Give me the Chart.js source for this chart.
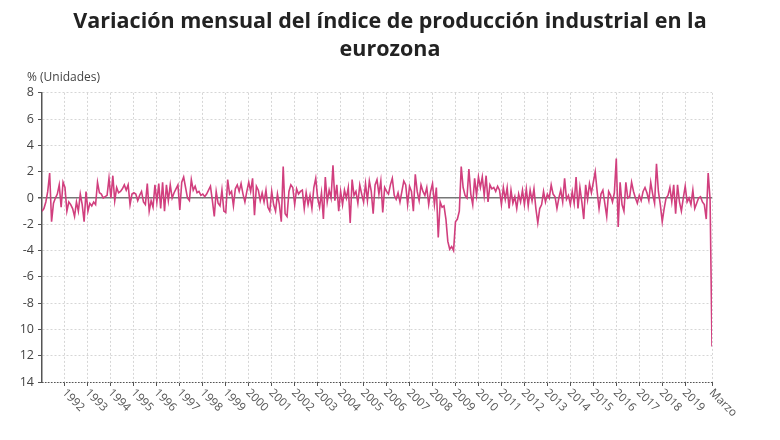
<!DOCTYPE html>
<html>
<head>
<meta charset="utf-8">
<script src="https://cdn.jsdelivr.net/npm/chart.js@4/dist/chart.umd.min.js"></script>
<style>
  html, body { margin: 0; padding: 0; background: #ffffff; }
  #wrap { width: 780px; height: 440px; }
</style>
</head>
<body>
<div id="wrap"><canvas id="c" width="780" height="440"></canvas></div>
<script>
// Variación mensual (%) — enero 1991 a marzo 2020
const tramo1 = [ // ene 1991 – abr 1998
  -1.0,-0.8,-0.3,0.5,1.9,-1.8,-0.4,0.0,0.3,1.0,-0.7,1.2,
  0.8,-1.0,-0.3,-0.5,-0.8,-1.4,-0.3,-1.0,0.3,-0.5,-1.8,0.5,
  -1.0,-0.4,-0.6,-0.3,-0.5,1.2,0.4,0.3,0.0,0.1,0.2,1.5,
  0.0,1.7,-0.2,0.8,0.4,0.5,0.7,1.0,0.6,1.0,-0.5,0.3,
  0.4,0.3,-0.2,0.2,0.5,-0.3,-0.5,1.1,-1.0,-0.2,-0.7,1.0,
  -0.3,1.1,-0.8,1.2,-1.0,1.0,-0.2,1.0,0.0,0.4,0.7,1.0,
  -0.9,1.2,1.6,0.8,0.0,-0.2,1.4,0.6,0.9,0.4,0.5,0.2,
  0.3,0.1,0.3,0.6
];
const tramo2 = [ // may 1998 – ago 2005
  0.9,-0.2,-1.4,0.5,-0.4,-0.6,0.6,-1.0,-1.1,1.4,0.3,0.5,
  -0.6,0.7,1.0,0.5,1.1,0.3,-0.3,0.5,1.2,0.5,1.5,-1.3,
  0.9,0.6,-0.2,0.4,-0.3,0.6,-0.7,-1.0,0.5,-0.5,-1.0,0.3,
  -0.5,-1.8,2.4,-1.2,-1.4,0.5,1.0,0.8,-0.5,0.7,0.3,0.5,
  0.6,-0.8,0.4,-0.5,0.2,-0.8,0.8,1.5,0.0,-0.7,0.4,-1.6,
  1.6,-0.3,0.6,0.0,2.5,-0.2,1.0,-1.0,0.5,-0.5,0.6,0.0,
  0.8,-1.9,1.4,0.2,0.5,-0.4,1.0,0.3,-0.3,1.1,-0.2,1.3,
  0.5,-1.2,1.0,1.4
];
const tramo3 = [ // sep 2005 – ago 2012
  0.3,1.3,-1.1,0.8,0.5,0.3,1.0,1.5,0.2,-0.1,0.4,-0.3,
  0.5,1.3,1.0,-0.5,0.9,0.5,-1.0,1.8,0.5,-0.2,1.0,0.5,
  0.2,0.8,-0.5,0.5,1.1,-0.5,0.8,-3.0,-0.3,-0.7,-0.6,-1.6,
  -3.3,-3.9,-3.7,-4.0,-1.8,-1.6,-1.0,2.4,0.8,0.2,0.0,2.2,
  0.3,-0.5,1.5,0.2,1.6,0.8,1.6,0.2,1.7,-0.3,1.0,0.7,
  0.8,0.5,0.9,0.6,-0.5,0.8,-0.1,0.8,-0.8,0.6,-0.4,0.1,
  -0.8,0.3,-0.3,0.6,-0.5,0.7,-0.6,0.6,-0.2,0.7,-0.8,-1.9
];
const tramo4 = [ // sep 2012 – mar 2020
  -0.8,-0.5,0.5,-0.3,0.3,0.0,1.0,0.3,0.1,-0.8,0.0,0.6,
  -0.3,1.5,-0.1,0.2,-0.5,0.5,-0.4,1.6,-0.8,0.8,-0.3,-1.6,
  1.0,-0.1,1.1,0.4,1.2,2.0,0.5,-0.8,0.3,0.6,-0.4,-1.4,
  0.5,0.2,-0.3,0.4,3.0,-2.2,1.2,-0.5,-1.0,1.2,0.0,0.1,
  1.2,0.5,0.0,-0.4,0.2,-0.2,0.5,0.8,0.4,-0.2,1.2,0.3,
  -0.4,2.6,0.5,-0.5,-1.8,-0.8,0.0,0.2,0.8,-0.3,1.0,-1.2,
  1.0,-0.3,-1.0,0.0,0.9,-0.3,0.0,-0.5,0.6,-0.8,-0.4,0.0,
  0.1,-0.3,-0.5,-1.6,1.9,-0.1,-11.3
];
const valores = [...tramo1, ...tramo2, ...tramo3, ...tramo4];

const anioInicio = 1991;
const meses = valores.map((_, i) => (anioInicio + Math.floor(i / 12)) + '-' + String(i % 12 + 1).padStart(2, '0'));

const etiquetasX = ['1992','1993','1994','1995','1996','1997','1998','1999','2000','2001','2002','2003','2004','2005','2006','2007','2008','2009','2010','2011','2012','2013','2014','2015','2016','2017','2018','2019','Marzo'];
const ticksY = [8, 6, 4, 2, 0, -2, -4, -6, -8, -10, -12, -14];
const etiquetasY = ['8','6','4','2','0','-2','-4','-6','-8','10','12','14'];

const titulo = ['Variación mensual del índice de producción industrial en la', 'eurozona'];
const unidad = '% (Unidades)';

const posTicksX = etiquetasX.map(l => l === 'Marzo' ? meses.length - 1 : meses.indexOf(l + '-01'));
const puntos = valores.map((v, i) => ({ x: i, y: v }));

const FONT = "'Open Sans', 'Noto Sans', sans-serif";

const decor = {
  id: 'decor',
  afterDraw(chart) {
    const { ctx, chartArea, scales } = chart;
    const xs = scales.x;
    ctx.save();
    // dotted bottom axis
    ctx.strokeStyle = '#555';
    ctx.lineWidth = 1;
    ctx.setLineDash([1.5, 1.5]);
    ctx.beginPath();
    ctx.moveTo(chartArea.left, chartArea.bottom + 0.5);
    ctx.lineTo(chartArea.right, chartArea.bottom + 0.5);
    ctx.stroke();
    ctx.setLineDash([]);
    // rotated x labels
    ctx.fillStyle = '#555';
    ctx.font = '11.5px ' + FONT;
    ctx.textAlign = 'left';
    ctx.textBaseline = 'middle';
    etiquetasX.forEach((lab, k) => {
      const px = xs.getPixelForValue(posTicksX[k]);
      ctx.save();
      ctx.translate(px - 1, chartArea.bottom + 9);
      ctx.rotate(Math.PI / 4);
      ctx.fillText(lab, 0, 0);
      ctx.restore();
    });
    // unit label
    ctx.fillStyle = '#444';
    ctx.font = '12px ' + FONT;
    ctx.textAlign = 'left';
    ctx.textBaseline = 'middle';
    ctx.fillText(unidad, 27, 78);
    ctx.restore();
  }
};

new Chart(document.getElementById('c'), {
  type: 'line',
  data: {
    datasets: [{
      data: puntos,
      borderColor: '#d13f7e',
      borderWidth: 1.6,
      pointRadius: 0,
      tension: 0,
      fill: false
    }]
  },
  options: {
    responsive: false,
    animation: false,
    layout: { padding: 0 },
    plugins: {
      legend: { display: false },
      tooltip: { enabled: false },
      title: {
        display: true,
        text: titulo,
        color: '#222',
        font: { family: FONT, size: 21.5, weight: 'bold', lineHeight: 1.3 },
        padding: { top: 8, bottom: 29 }
      }
    },
    scales: {
      x: {
        type: 'linear',
        min: 0,
        max: meses.length - 1,
        afterBuildTicks(scale) { scale.ticks = posTicksX.map(v => ({ value: v })); },
        afterFit(scale) { scale.height = 58; },
        ticks: { display: false },
        grid: {
          color: '#d6d6d6',
          lineWidth: 1,
          drawTicks: true,
          tickLength: 4,
          tickColor: '#555',
          tickBorderDash: []
        },
        border: { display: false, dash: [2, 2] }
      },
      y: {
        min: -14,
        max: 8,
        afterBuildTicks(scale) { scale.ticks = ticksY.map(v => ({ value: v })); },
        afterFit(scale) { scale.width = 42; },
        ticks: {
          color: '#444',
          font: { family: FONT, size: 12.5 },
          padding: 4,
          callback: (v) => etiquetasY[ticksY.indexOf(v)]
        },
        grid: {
          color: (c) => (c.tick && c.tick.value === 0) ? '#777' : '#d6d6d6',
          lineWidth: (c) => (c.tick && c.tick.value === 0) ? 1.5 : 1,
          drawTicks: true,
          tickLength: 4,
          tickColor: '#555',
          tickBorderDash: []
        },
        border: {
          display: true,
          color: '#555',
          width: 1.5,
          dash: (c) => (c.tick && c.tick.value === 0) ? [] : [2, 2]
        }
      },
      margen: {
        type: 'linear',
        position: 'right',
        display: true,
        afterFit(scale) { scale.width = 68; },
        ticks: { display: false },
        grid: { display: false, drawTicks: false },
        border: { display: false }
      }
    }
  },
  plugins: [decor]
});
</script>
</body>
</html>
